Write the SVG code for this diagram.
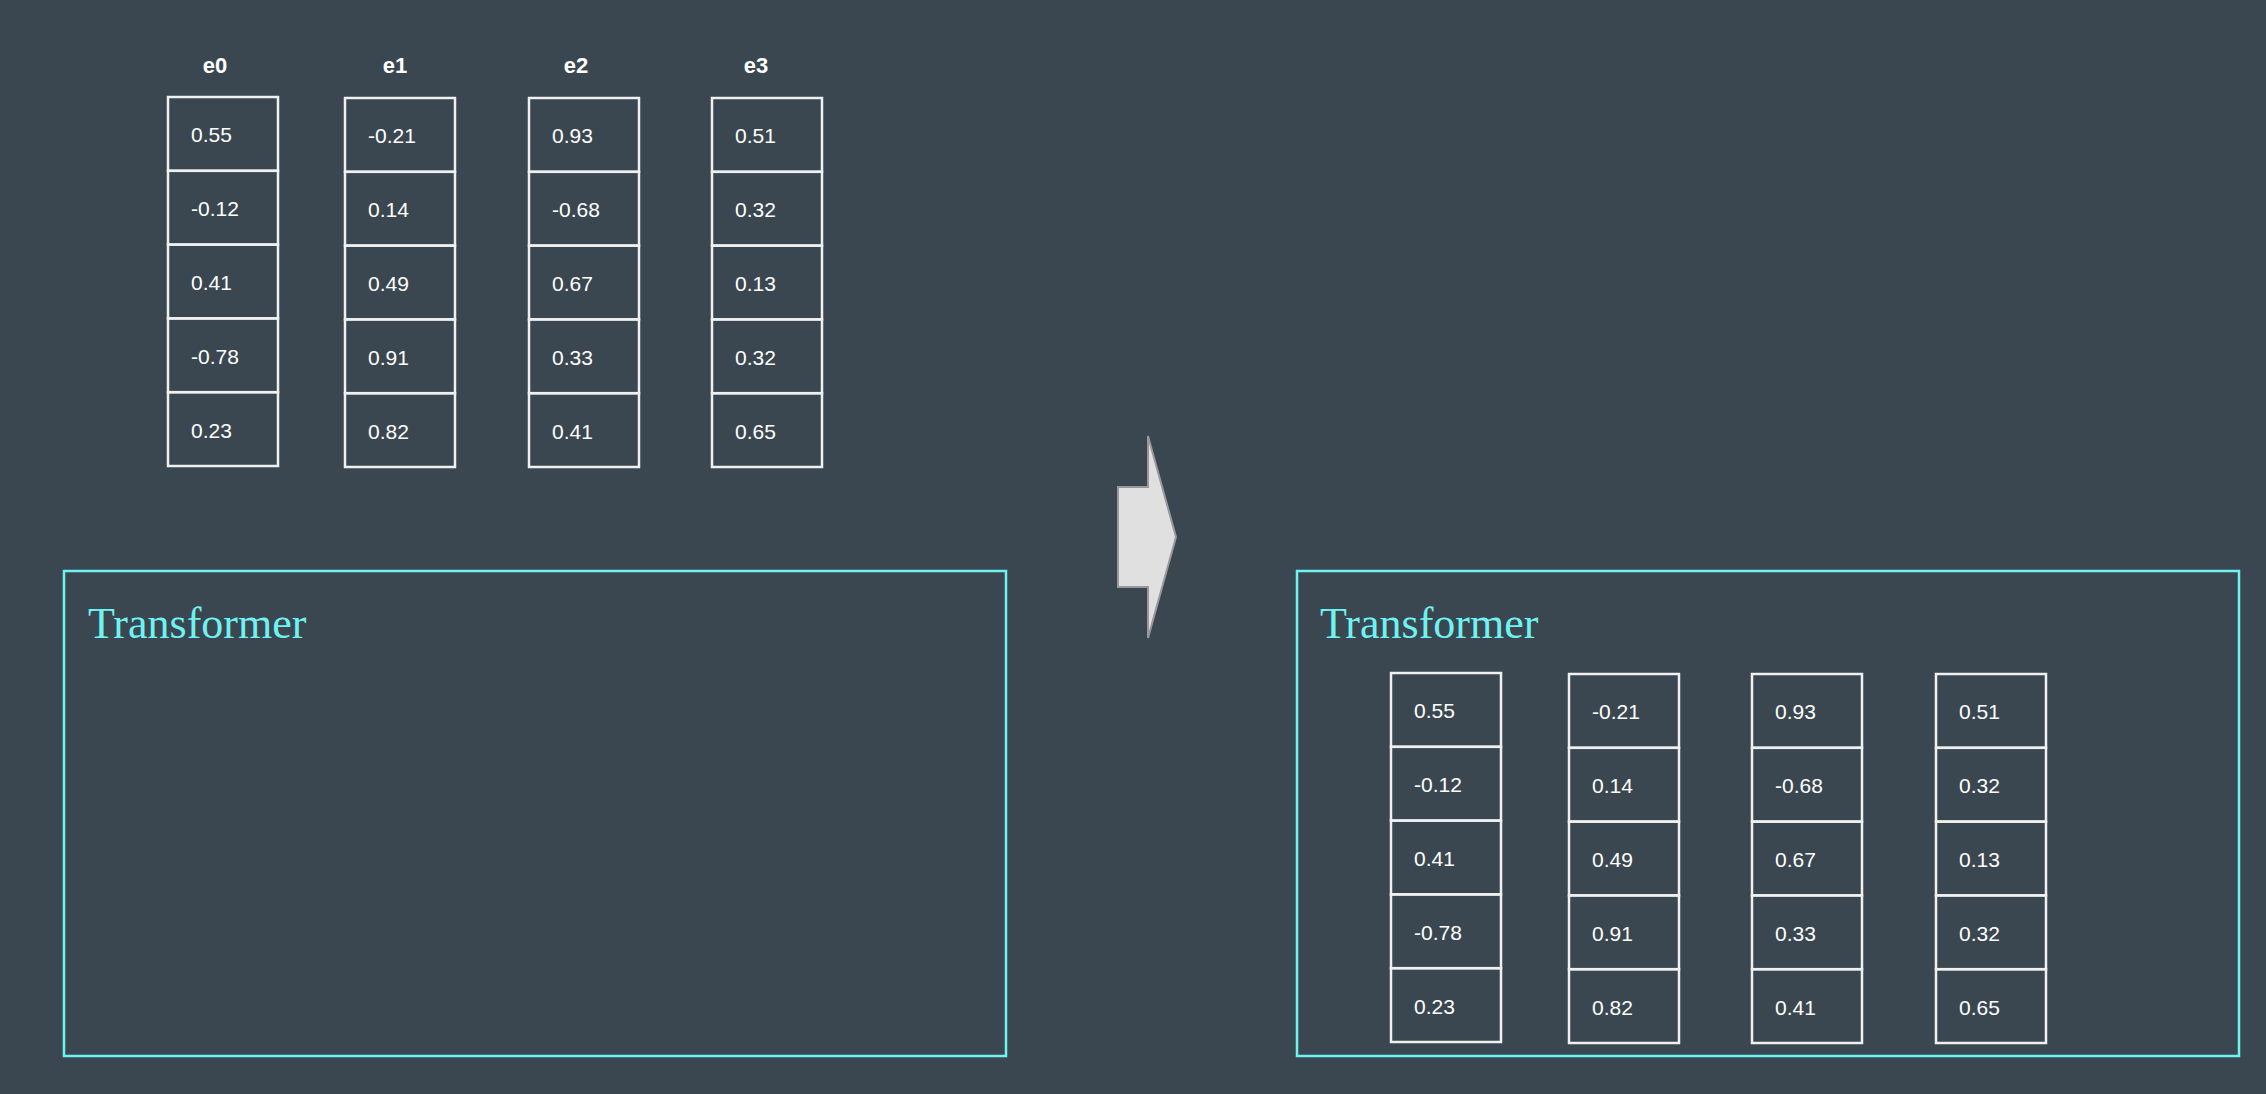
<svg xmlns="http://www.w3.org/2000/svg" width="2266" height="1094" viewBox="0 0 2266 1094">
<style>
.c{fill:none;stroke:#f0f0f0;stroke-width:2.5}
.v{font-family:"Liberation Sans",Arial,sans-serif;font-size:21px;fill:#ffffff;dominant-baseline:central}
.h{font-family:"Liberation Sans",Arial,sans-serif;font-size:22px;font-weight:bold;fill:#ffffff;text-anchor:middle}
.tb{fill:none;stroke:#6ff2f2;stroke-width:2.5}
.tt{font-family:"Liberation Serif","Times New Roman",serif;font-size:44px;fill:#6ff2f2}
</style>
<defs>
<g id="col">
<rect class="c" x="0" y="0" width="110" height="73.8"/>
<rect class="c" x="0" y="73.8" width="110" height="73.8"/>
<rect class="c" x="0" y="147.6" width="110" height="73.8"/>
<rect class="c" x="0" y="221.4" width="110" height="73.8"/>
<rect class="c" x="0" y="295.2" width="110" height="73.8"/>
</g>
</defs>
<rect width="2266" height="1094" fill="#3a4750"/>
<g id="e0"><text class="h" x="215" y="73">e0</text><use href="#col" x="168" y="97"/>
<text class="v" x="191" y="134">0.55</text><text class="v" x="191" y="208">-0.12</text><text class="v" x="191" y="282">0.41</text><text class="v" x="191" y="356">-0.78</text><text class="v" x="191" y="430">0.23</text></g>
<g id="e1"><text class="h" x="395" y="73">e1</text><use href="#col" x="345" y="98"/>
<text class="v" x="368" y="135">-0.21</text><text class="v" x="368" y="209">0.14</text><text class="v" x="368" y="283">0.49</text><text class="v" x="368" y="357">0.91</text><text class="v" x="368" y="431">0.82</text></g>
<g id="e2"><text class="h" x="576" y="73">e2</text><use href="#col" x="529" y="98"/>
<text class="v" x="552" y="135">0.93</text><text class="v" x="552" y="209">-0.68</text><text class="v" x="552" y="283">0.67</text><text class="v" x="552" y="357">0.33</text><text class="v" x="552" y="431">0.41</text></g>
<g id="e3"><text class="h" x="756" y="73">e3</text><use href="#col" x="712" y="98"/>
<text class="v" x="735" y="135">0.51</text><text class="v" x="735" y="209">0.32</text><text class="v" x="735" y="283">0.13</text><text class="v" x="735" y="357">0.32</text><text class="v" x="735" y="431">0.65</text></g>
<g id="transformer-left"><rect class="tb" x="64" y="571" width="942" height="485"/><text class="tt" x="88" y="638">Transformer</text></g>
<g id="arrow"><polygon points="1118,487 1148,487 1148,436 1176,537 1148,638 1148,587 1118,587" fill="#e0e0e0" stroke="#999" stroke-width="2"/></g>
<g id="transformer-right"><rect class="tb" x="1297" y="571" width="942" height="485"/><text class="tt" x="1320" y="638">Transformer</text>
<g id="o0"><use href="#col" x="1391" y="673"/>
<text class="v" x="1414" y="710">0.55</text><text class="v" x="1414" y="784">-0.12</text><text class="v" x="1414" y="858">0.41</text><text class="v" x="1414" y="932">-0.78</text><text class="v" x="1414" y="1006">0.23</text></g>
<g id="o1"><use href="#col" x="1569" y="674"/>
<text class="v" x="1592" y="711">-0.21</text><text class="v" x="1592" y="785">0.14</text><text class="v" x="1592" y="859">0.49</text><text class="v" x="1592" y="933">0.91</text><text class="v" x="1592" y="1007">0.82</text></g>
<g id="o2"><use href="#col" x="1752" y="674"/>
<text class="v" x="1775" y="711">0.93</text><text class="v" x="1775" y="785">-0.68</text><text class="v" x="1775" y="859">0.67</text><text class="v" x="1775" y="933">0.33</text><text class="v" x="1775" y="1007">0.41</text></g>
<g id="o3"><use href="#col" x="1936" y="674"/>
<text class="v" x="1959" y="711">0.51</text><text class="v" x="1959" y="785">0.32</text><text class="v" x="1959" y="859">0.13</text><text class="v" x="1959" y="933">0.32</text><text class="v" x="1959" y="1007">0.65</text></g>
</g>
<g id="connectors"/>
</svg>
